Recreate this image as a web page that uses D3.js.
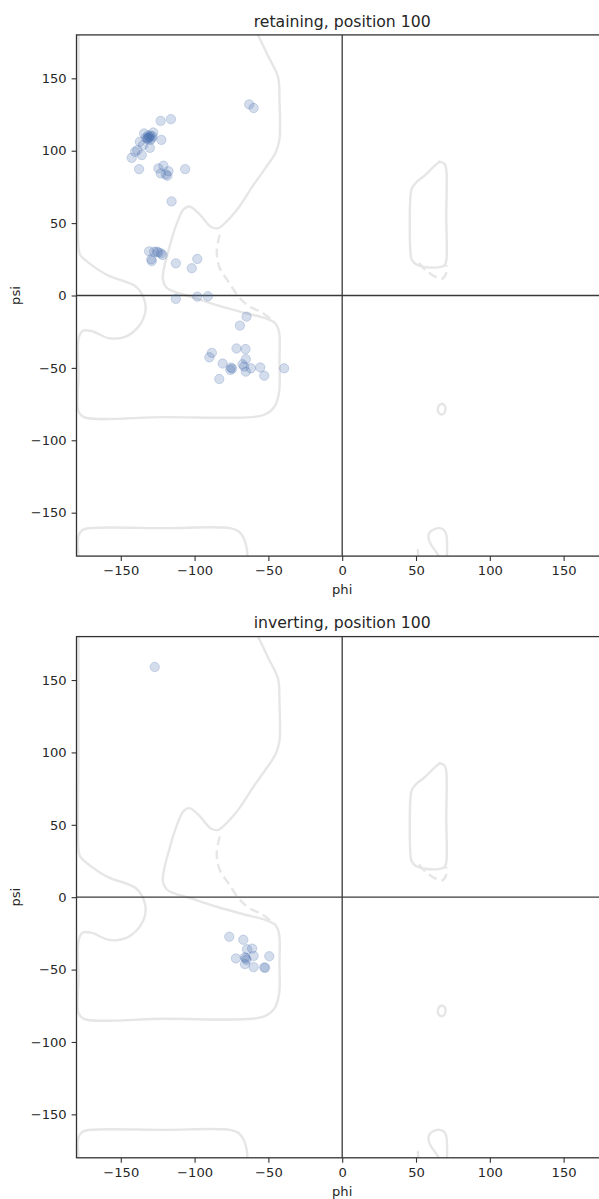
<!DOCTYPE html>
<html>
<head>
<meta charset="utf-8">
<script src="https://cdn.jsdelivr.net/npm/d3@7"></script>
<style>
  body { margin: 0; background: #fff; }
  svg { display: block; }
  text { font-family: "DejaVu Sans", sans-serif; fill: #262626; }
</style>
</head>
<body>
<svg id="chart" width="599" height="1199"></svg>
<script>
// ---- tick values ----
const phiTicks = [-150, -100, -50, 0, 50, 100, 150];
const psiTicks = [-150, -100, -50, 0, 50, 100, 150];

// ---- retaining enzymes, residue 100 (phi, psi in degrees) ----
const retainingPhi = [
  -63, -60, -123, -116,
  -131, -130, -132, -129, -131.5, -133, -130, -128.5, -130.5, -131.8,
  -128, -122.5, -134.2, -137.1, -134.9, -130.3, -138.8, -140.3, -135.8, -142.6,
  -137.6, -124.5, -121.1, -122.9, -119.5, -117.7, -118.4, -106.4, -115.6,
  -130.8, -127.4, -125.5, -124.5, -122.8, -121.7, -129, -129.3,
  -112.7, -98.2, -101.9, -112.7, -98.2, -91,
  -64.8, -69.3, -71.6, -65.5, -88.3, -90, -81, -75.4, -75.8, -74.5,
  -65.3, -67.5, -66.4, -65.3, -61.9, -55.5, -52.8, -39.3, -83.3
];
const retainingPsi = [
  132, 129.5, 120.6, 121.8,
  109, 110.5, 108, 108.5, 110.5, 109, 107.5, 110, 109.5, 108.8,
  112.6, 107.5, 111.9, 106.2, 103.9, 102, 100.4, 99.2, 97, 95.1,
  87.3, 87.8, 89.6, 84.3, 83.6, 85.9, 82.7, 87.3, 65,
  30.5, 30.2, 30.2, 29.8, 29.1, 28, 23.8, 25,
  22.2, 25.2, 18.8, -2.3, -0.8, -0.5,
  -14.6, -20.8, -36.6, -37, -39.6, -42.7, -47, -49.8, -51.4, -50.5,
  -44, -47.5, -49.1, -52.6, -50.3, -49.7, -55.4, -50.3, -57.7
];

// ---- inverting enzymes, residue 100 ----
const invertingPhi = [
  -127, -76.5, -67, -64.5, -61, -60, -72, -65.2, -64.8, -66,
  -65.9, -60, -52.8, -52.2, -49.4
];
const invertingPsi = [
  159, -27.3, -29.4, -36, -35.5, -40.5, -42.3, -42.2, -43.3, -41.5,
  -46.2, -48.3, -48.5, -48.8, -40.8
];

// ---- allowed-region outlines (phi, psi) ----
const generalOuter = [
  [-57, 180], [-50, 165], [-43.5, 151], [-42.5, 135], [-42.5, 108], [-45, 99],
  [-52, 88], [-61, 75], [-70, 61], [-79, 50.5], [-84, 46.5], [-89, 47.5],
  [-97, 56.5], [-103.5, 61.5], [-107.5, 59.5], [-113, 47], [-117, 33.5],
  [-120.5, 20], [-121.5, 11], [-119, 5.5], [-112, 2], [-105, 0], [-85, -6.6],
  [-65, -12.3], [-52, -15.7], [-45.5, -19], [-42.8, -25], [-42.5, -45],
  [-42.8, -67], [-46, -77], [-52, -82], [-61, -84], [-120, -84], [-175, -84],
  [-178.6, -80], [-178.6, -55], [-178.6, -30], [-176, -24.5], [-170, -24.5],
  [-158, -29.5], [-147, -28.5], [-138, -21.5], [-133.5, -12], [-134, -3],
  [-139.5, 6], [-148, 10], [-158, 13.5], [-171, 22], [-177.5, 28],
  [-178.6, 33], [-178.6, 100], [-178.6, 180]
];
const generalBottom = [
  [-178.6, -180], [-178.6, -166], [-176, -162], [-171, -160.7], [-120, -160.7],
  [-76, -160.7], [-70, -163], [-66.5, -168], [-64.6, -175], [-64.2, -180]
];
const alphaDashed = [
  [-83, 42], [-85, 30], [-83, 19], [-77, 9.5], [-70, -1], [-63, -7.5],
  [-54, -12], [-47, -17.5]
];
const leftHandedOuter = [
  [66, 92.5], [69.3, 91], [70.5, 87], [70.5, 55], [70.5, 24], [69.3, 20.8],
  [66, 19.6], [55, 19.8], [50, 21.5], [47, 25], [46.2, 30], [46.2, 68],
  [47.2, 74], [50, 78], [56, 83], [62, 89], [66, 92.5]
];
const leftHandedDashed = [
  [52, 22.5], [57, 17], [63, 13], [67.5, 11.5], [70.3, 15], [70.5, 21]
];
const smallLoop = [
  [67.8, -74.8], [69.5, -76], [70, -78.5], [69, -81.5], [67, -82.2],
  [65.2, -80.8], [64.8, -78], [66, -75.5], [67.8, -74.8]
];
const bottomLoop = [
  [71, -180], [71, -170], [70.5, -165], [69, -162], [66, -160.7], [62.5, -161.3],
  [59.3, -163.5], [58.4, -167], [59.8, -171.5], [62.5, -175.5], [65.5, -180]
];
const bottomFragment = [[51.2, -176], [51.6, -180]];

// ---- layout ----
const svg = d3.select("#chart");
const left = 76.5, plotW = 531.4, plotH = 521.2;
const panels = [
  { title: "retaining, position 100", top: 34.9, phi: retainingPhi, psi: retainingPsi },
  { title: "inverting, position 100", top: 636.6, phi: invertingPhi, psi: invertingPsi }
];
const fmt = d => (d < 0 ? "\u2212" + Math.abs(d) : String(d));
const pointColor = "#4c72b0";
const outlineColor = "#e6e6e6";

panels.forEach((p, i) => {
  const x = d3.scaleLinear().domain([-180, 180]).range([left, left + plotW]);
  const y = d3.scaleLinear().domain([-180, 180]).range([p.top + plotH, p.top]);
  const g = svg.append("g");

  const clipId = "clip" + i;
  g.append("clipPath").attr("id", clipId)
    .append("rect").attr("x", left).attr("y", p.top).attr("width", plotW).attr("height", plotH);

  const plot = g.append("g").attr("clip-path", `url(#${clipId})`);
  const line = d3.line().x(d => x(d[0])).y(d => y(d[1])).curve(d3.curveCatmullRom.alpha(0.5));

  // region outlines
  [generalOuter, generalBottom, leftHandedOuter, smallLoop, bottomLoop, bottomFragment].forEach(c => {
    plot.append("path").attr("d", line(c)).attr("fill", "none")
      .attr("stroke", outlineColor).attr("stroke-width", 2.4)
      .attr("stroke-linejoin", "round").attr("stroke-linecap", "round");
  });
  [alphaDashed, leftHandedDashed].forEach(c => {
    plot.append("path").attr("d", line(c)).attr("fill", "none")
      .attr("stroke", outlineColor).attr("stroke-width", 2.4)
      .attr("stroke-dasharray", "9,5");
  });

  // zero lines
  plot.append("line").attr("x1", left).attr("x2", left + plotW)
    .attr("y1", y(0)).attr("y2", y(0)).attr("stroke", "#3a3a3a").attr("stroke-width", 1.3);
  plot.append("line").attr("x1", x(0)).attr("x2", x(0))
    .attr("y1", p.top).attr("y2", p.top + plotH).attr("stroke", "#3a3a3a").attr("stroke-width", 1.3);

  // points
  const pts = p.phi.map((v, k) => [v, p.psi[k]]);
  plot.selectAll("circle").data(pts).join("circle")
    .attr("cx", d => x(d[0])).attr("cy", d => y(d[1])).attr("r", 4.7)
    .attr("fill", pointColor).attr("fill-opacity", 0.24)
    .attr("stroke", pointColor).attr("stroke-opacity", 0.24).attr("stroke-width", 1);

  // axes
  const xAxis = g.append("g").attr("transform", `translate(0,${p.top + plotH})`)
    .call(d3.axisBottom(x).tickValues(phiTicks).tickFormat(fmt).tickSize(4.9).tickPadding(5.2));
  const yAxis = g.append("g").attr("transform", `translate(${left},0)`)
    .call(d3.axisLeft(y).tickValues(psiTicks).tickFormat(fmt).tickSize(4.9).tickPadding(4.9));
  [xAxis, yAxis].forEach(a => {
    a.select(".domain").remove();
    a.selectAll(".tick line").attr("stroke", "#333").attr("stroke-width", 1.1);
    a.selectAll(".tick text").attr("font-size", 13.1).attr("font-family", "DejaVu Sans").attr("fill", "#262626");
  });

  // frame
  g.append("rect").attr("x", left).attr("y", p.top).attr("width", plotW).attr("height", plotH)
    .attr("fill", "none").attr("stroke", "#333").attr("stroke-width", 1.3);

  // labels
  g.append("text").attr("x", left + plotW / 2).attr("y", p.top - 8.4)
    .attr("text-anchor", "middle").attr("font-size", 15.7).text(p.title);
  g.append("text").attr("x", x(0)).attr("y", p.top + plotH + 38.3)
    .attr("text-anchor", "middle").attr("font-size", 13.1).text("phi");
  g.append("text").attr("transform", `translate(20,${p.top + plotH / 2}) rotate(-90)`)
    .attr("text-anchor", "middle").attr("font-size", 13.1).text("psi");
});
</script>
</body>
</html>
